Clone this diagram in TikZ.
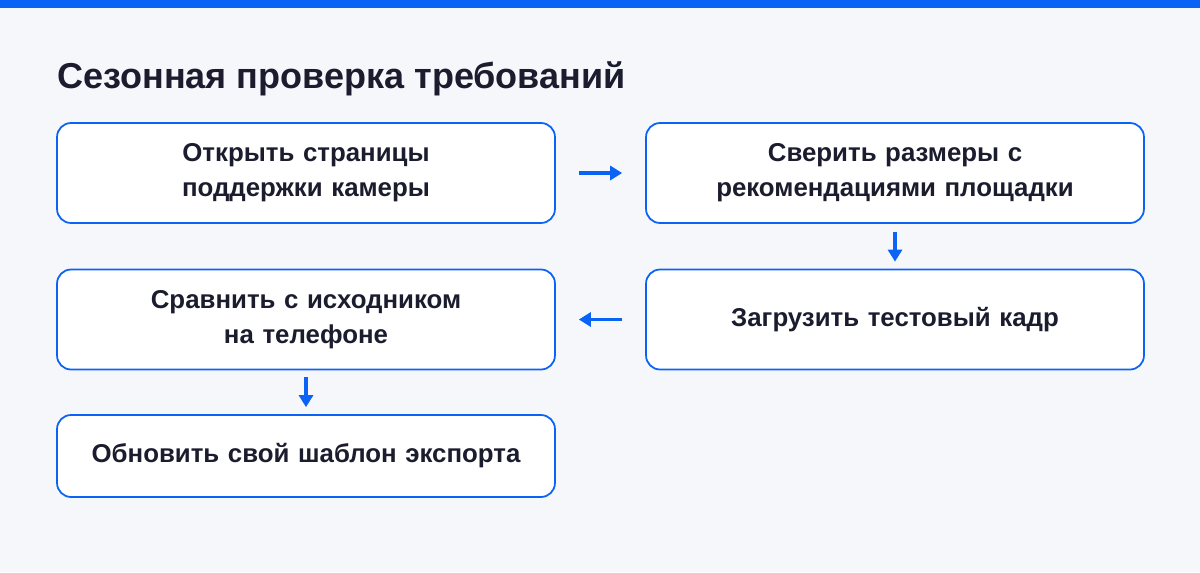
\documentclass[tikz,border=0pt]{standalone}
\usepackage{fontspec}
\setmainfont{Liberation Sans}
\usetikzlibrary{arrows.meta}
\definecolor{pagebg}{HTML}{F6F7FB}
\definecolor{accent}{HTML}{0B63F6}
\definecolor{ink}{HTML}{1B1D2E}
\tikzset{
  stage/.style={draw=accent, line width=1pt, fill=white, rounded corners=0.28cm,
    minimum width=9.96cm, minimum height=2cm, text width=8.7cm, align=center,
    font=\bfseries\fontsize{14.7}{20}\selectfont, text=ink},
  flow/.style={draw=accent, line width=1.8pt, -{Triangle[length=0.24cm,width=0.28cm]}}
}
\begin{document}
\begin{tikzpicture}[x=0.02cm,y=-0.02cm]

\fill [pagebg] (0,0) rectangle (1200,572);
\fill [accent] (0,0) rectangle (1200,8);

\node [anchor=base west, text=ink, font=\bfseries\fontsize{20.5}{24}\selectfont, inner sep=0pt]
  (title) at (57,88) {Сезонная проверка требований};

\node [stage] (open) at (306,173) {Открыть страницы поддержки камеры};
\node [stage] (check) at (895,173) {Сверить размеры с рекомендациями площадки};
\node [stage] (upload) at (895,319.5) {Загрузить тестовый кадр};
\node [stage] (compare) at (306,319.5) {Сравнить с исходником на телефоне};
\node [stage, minimum height=1.64cm] (update) at (306,456) {Обновить свой шаблон экспорта};

\draw [flow] ([xshift=0.46cm]open.east) -- ([xshift=-0.46cm]check.west);
\draw [flow] ([yshift=-0.16cm]check.south) -- ([yshift=0.14cm]upload.north);
\draw [flow] ([xshift=-0.46cm]upload.west) -- ([xshift=0.46cm]compare.east);
\draw [flow] ([yshift=-0.14cm]compare.south) -- ([yshift=0.14cm]update.north);

\end{tikzpicture}
\end{document}
